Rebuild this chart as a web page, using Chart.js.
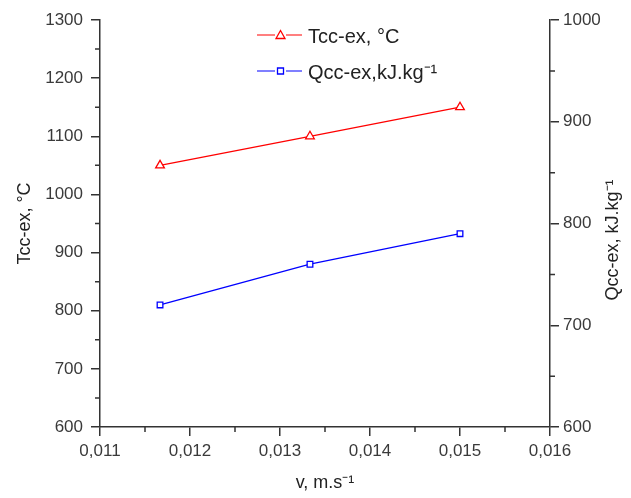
<!DOCTYPE html>
<html>
<head>
<meta charset="utf-8">
<script src="https://cdn.jsdelivr.net/npm/chart.js@4"></script>
<style>
  html, body { margin: 0; padding: 0; background: #fff; }
  #wrap { width: 631px; height: 498px; }
</style>
</head>
<body>
<div id="wrap"><canvas id="chart" width="631" height="498"></canvas></div>
<script>
const velocity = [0.011667, 0.013333, 0.015];
const tccValues = [1050, 1100, 1150];
const qccValues = [720, 760, 790];
const xTicks = [0.011, 0.012, 0.013, 0.014, 0.015, 0.016];
const tccLabel = 'Tcc-ex, °C';
const qccLabel = 'Qcc-ex,kJ.kg⁻¹';
const qccAxisLabel = 'Qcc-ex, kJ.kg⁻¹';

const fam = 'Liberation Sans, Arial, sans-serif';
const font = { family: fam, size: 17 };
const titleFont = { family: fam, size: 18 };
const textColor = '#3a3a3a';
const axisColor = '#333';

const pts = (ys) => velocity.map((v, i) => ({ x: v, y: ys[i] }));

// short minor ticks between the labelled ones
const minorTicks = {
  id: 'minorTicks',
  afterDraw(chart) {
    const ctx = chart.ctx;
    const { x, y, y2 } = chart.scales;
    ctx.save();
    ctx.strokeStyle = axisColor;
    ctx.lineWidth = 1.5;
    ctx.beginPath();
    for (let v = 0.0115; v < 0.016; v += 0.001) {
      const px = x.getPixelForValue(v);
      ctx.moveTo(px, x.top);
      ctx.lineTo(px, x.top + 5);
    }
    for (let v = 650; v < 1300; v += 100) {
      const py = y.getPixelForValue(v);
      ctx.moveTo(y.right, py);
      ctx.lineTo(y.right - 5, py);
    }
    for (let v = 650; v < 1000; v += 100) {
      const py = y2.getPixelForValue(v);
      ctx.moveTo(y2.left, py);
      ctx.lineTo(y2.left + 5, py);
    }
    ctx.stroke();

    // right axis title reads bottom to top
    ctx.fillStyle = '#222';
    ctx.font = titleFont.size + 'px ' + fam;
    ctx.textAlign = 'center';
    ctx.textBaseline = 'middle';
    ctx.translate(613, 240);
    ctx.rotate(-Math.PI / 2);
    ctx.fillText(qccAxisLabel, 0, 0);
    ctx.restore();
  }
};

// legend with line - marker - line samples
const lineLegend = {
  id: 'lineLegend',
  afterDraw(chart) {
    const ctx = chart.ctx;
    const rows = [
      { ds: chart.data.datasets[0], y: 35 },
      { ds: chart.data.datasets[1], y: 71 }
    ];
    ctx.save();
    rows.forEach(r => {
      ctx.strokeStyle = r.ds.borderColor;
      ctx.lineWidth = 1.2;
      ctx.beginPath();
      ctx.moveTo(257, r.y); ctx.lineTo(275, r.y);
      ctx.moveTo(286, r.y); ctx.lineTo(302, r.y);
      ctx.stroke();
      ctx.lineWidth = 1.3;
      ctx.beginPath();
      if (r.ds.pointStyle === 'triangle') {
        ctx.moveTo(280.5, r.y - 4.5);
        ctx.lineTo(285, r.y + 3.5);
        ctx.lineTo(276, r.y + 3.5);
        ctx.closePath();
      } else {
        ctx.rect(277.5, r.y - 3, 6, 6);
      }
      ctx.stroke();
      ctx.fillStyle = '#222';
      ctx.font = '20px ' + fam;
      ctx.textBaseline = 'alphabetic';
      ctx.fillText(r.ds.label, 308, r.y + 8);
    });
    ctx.restore();
  }
};

new Chart(document.getElementById('chart'), {
  type: 'line',
  data: {
    datasets: [
      {
        label: tccLabel,
        data: pts(tccValues),
        yAxisID: 'y',
        borderColor: '#ff0000',
        backgroundColor: '#ffffff',
        borderWidth: 1.3,
        pointStyle: 'triangle',
        pointRadius: 5,
        pointBorderWidth: 1.3,
        tension: 0
      },
      {
        label: qccLabel,
        data: pts(qccValues),
        yAxisID: 'y2',
        borderColor: '#0000ff',
        backgroundColor: '#ffffff',
        borderWidth: 1.3,
        pointStyle: 'rect',
        pointRadius: 4,
        pointBorderWidth: 1.3,
        tension: 0
      }
    ]
  },
  options: {
    responsive: false,
    animation: false,
    layout: { padding: { top: 20, left: 0, right: 0, bottom: 0 } },
    plugins: { legend: { display: false }, tooltip: { enabled: false } },
    scales: {
      x: {
        type: 'linear',
        min: 0.011,
        max: 0.016,
        afterBuildTicks: s => { s.ticks = xTicks.map(v => ({ value: v })); },
        afterFit: s => { s.height = 71; },
        border: { color: axisColor, width: 1.5 },
        grid: { drawOnChartArea: false, color: axisColor, tickLength: 9, lineWidth: 1.5 },
        ticks: {
          font, color: textColor, padding: 5,
          callback: v => v.toFixed(3).replace('.', ',')
        },
        title: { display: true, text: 'v, m.s⁻¹', font: titleFont, color: '#222', padding: { top: 4, bottom: 4 } }
      },
      y: {
        position: 'left',
        min: 600,
        max: 1300,
        afterFit: s => { s.width = 100; },
        border: { color: axisColor, width: 1.5 },
        grid: { drawOnChartArea: false, color: axisColor, tickLength: 9, lineWidth: 1.5 },
        ticks: { font, color: textColor, stepSize: 100, padding: 8, callback: v => String(v) },
        title: { display: true, text: tccLabel, font: titleFont, color: '#222', padding: { top: 14, bottom: 0 } }
      },
      y2: {
        position: 'right',
        min: 600,
        max: 1000,
        afterFit: s => { s.width = 81; },
        border: { color: axisColor, width: 1.5 },
        grid: { drawOnChartArea: false, color: axisColor, tickLength: 9, lineWidth: 1.5 },
        ticks: { font, color: textColor, stepSize: 100, padding: 4, callback: v => String(v) }
      }
    }
  },
  plugins: [minorTicks, lineLegend]
});
</script>
</body>
</html>
